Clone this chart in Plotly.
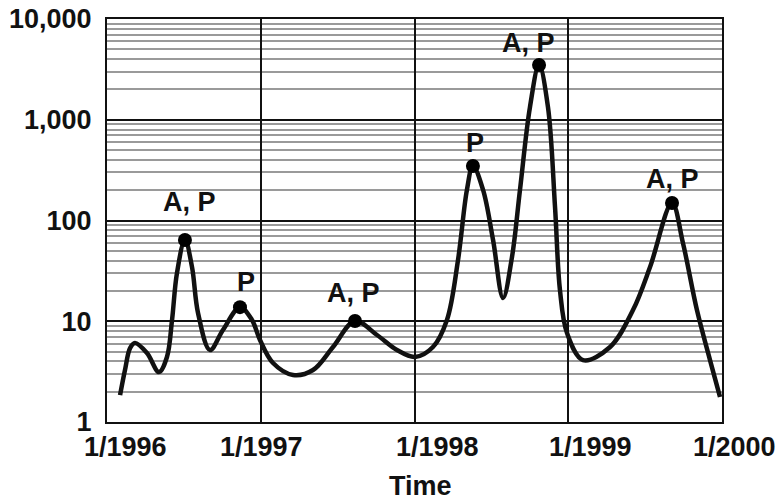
import numpy as np
import plotly.graph_objects as go

# ---- data ----
curve_years = [1996.085, 1996.117, 1996.150, 1996.182, 1996.260, 1996.338, 1996.390, 1996.423,
               1996.455, 1996.507, 1996.553, 1996.592, 1996.670, 1996.754, 1996.865, 1996.943,
               1996.995, 1997.080, 1997.210, 1997.340, 1997.470, 1997.613, 1997.756, 1997.886,
               1998.003, 1998.120, 1998.211, 1998.283, 1998.341, 1998.380, 1998.446, 1998.511,
               1998.576, 1998.634, 1998.686, 1998.751, 1998.810, 1998.868, 1998.914, 1998.946,
               1998.992, 1999.096, 1999.272, 1999.421, 1999.532, 1999.675, 1999.746, 1999.837,
               1999.922, 1999.987]
curve_values = [1.85, 3.28, 5.42, 6.08, 4.84, 3.13, 4.42, 10.3,
                30.1, 64.0, 34.5, 12.1, 5.18, 8.19, 13.8, 10.3,
                6.51, 3.85, 2.93, 3.28, 5.55, 10.05, 7.3, 5.18,
                4.42, 5.55, 10.3, 40.5, 201, 348, 201, 64,
                17.0, 43.4, 201, 1338, 3494, 1338, 136, 20.4,
                7.64, 4.12, 5.55, 12.9, 34.5, 149, 59.8, 12.9,
                4.12, 1.77]

peak_years = [1996.507, 1996.865, 1997.613, 1998.380, 1998.810, 1999.675]
peak_values = [64.0, 13.8, 10.05, 348, 3494, 149]
peak_labels = ["A, P", "P", "A, P", "P", "A, P", "A, P"]

year_ticks = [1996, 1997, 1998, 1999, 2000]
year_labels = ["1/1996", "1/1997", "1/1998", "1/1999", "1/2000"]
y_ticks = [1, 10, 100, 1000, 10000]
y_labels = ["1", "10", "100", "1,000", "10,000"]

# ---- styling ----
FONT = "Liberation Sans, Arial, sans-serif"
label_xshift = [18, 1, 23, 22, 12]
peak_xshift = [5, 6, -2, 2, -11, 0]
peak_yshift = [38, 25, 28, 23, 22, 24]

fig = go.Figure()
fig.add_trace(go.Scatter(
    x=curve_years, y=curve_values, mode="lines",
    line=dict(color="#111111", width=4.5, shape="spline", smoothing=1.0),
    hoverinfo="skip", showlegend=False))
fig.add_trace(go.Scatter(
    x=peak_years, y=peak_values, mode="markers",
    marker=dict(color="#000000", size=14),
    hoverinfo="skip", showlegend=False))

annotations = []
for yr, lab, dx in zip(year_ticks, year_labels, label_xshift):
    annotations.append(dict(
        x=yr, y=0, xref="x", yref="paper", text=lab, showarrow=False,
        xanchor="center", yanchor="middle", xshift=dx, yshift=-25,
        font=dict(family=FONT, size=27, color="#111111", weight="bold")))
for px, pv, lab, dx, dy in zip(peak_years, peak_values, peak_labels, peak_xshift, peak_yshift):
    annotations.append(dict(
        x=px, y=np.log10(pv), xref="x", yref="y", text=lab, showarrow=False,
        xanchor="center", yanchor="middle", xshift=dx, yshift=dy,
        font=dict(family=FONT, size=27, color="#111111", weight="bold")))
annotations.append(dict(
    x=0.509, y=0, xref="paper", yref="paper", text="Time", showarrow=False,
    xanchor="center", yanchor="middle", yshift=-64,
    font=dict(family=FONT, size=27, color="#111111", weight="bold")))

fig.update_layout(
    width=780, height=500,
    margin=dict(l=107, r=58, t=19, b=78, autoexpand=False),
    paper_bgcolor="white", plot_bgcolor="white",
    annotations=annotations,
    xaxis=dict(
        range=[1996, 2000], tickvals=year_ticks, showticklabels=False,
        automargin=False,
        showgrid=True, gridcolor="#111111", gridwidth=2, zeroline=False,
        showline=True, linecolor="#111111", linewidth=2, mirror=True, ticks=""),
    yaxis=dict(
        type="log", range=[0, 4], tickvals=y_ticks, ticktext=y_labels,
        automargin=False,
        showgrid=True, gridcolor="#111111", gridwidth=2, zeroline=False,
        showline=True, linecolor="#111111", linewidth=2, mirror=True, ticks="",
        ticklabelstandoff=8,
        tickfont=dict(family=FONT, size=27, color="#111111", weight="bold"),
        minor=dict(dtick="D1", showgrid=True, gridcolor="#9a9a9a", gridwidth=2, ticks="")),
)

fig.write_html("out.html", config={"displayModeBar": False},
               post_script="document.body.style.margin='0px';")
